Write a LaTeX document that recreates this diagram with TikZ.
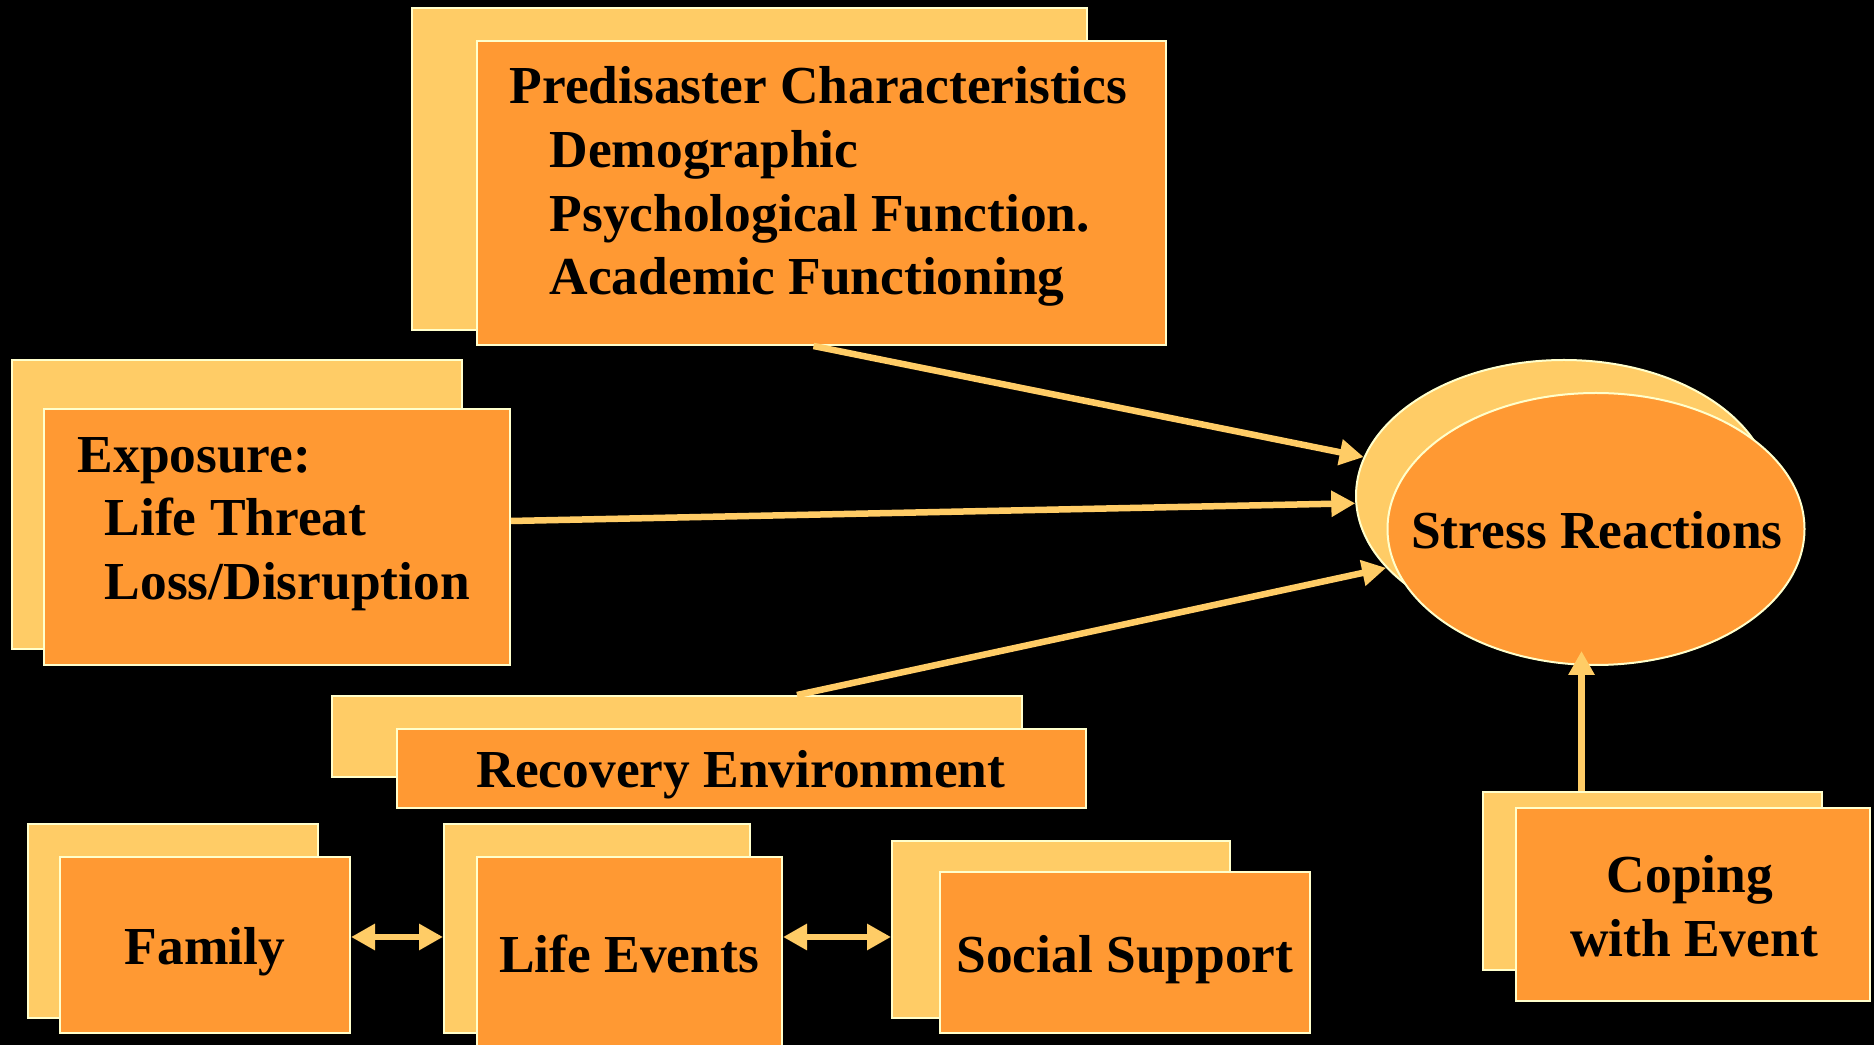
\documentclass[tikz,border=0pt]{standalone}
\usepackage{fontspec}
\setmainfont{Liberation Serif}
\usetikzlibrary{shapes.geometric,arrows.meta,fit}
\definecolor{backfill}{HTML}{FFCC66}
\definecolor{frontfill}{HTML}{FF9933}
\definecolor{rim}{HTML}{FFFFCC}
\tikzset{
    backbox/.style={draw=rim, line width=0.2mm, fill=backfill, inner sep=0pt},
    frontbox/.style={draw=rim, line width=0.2mm, fill=frontfill, inner sep=0pt},
    lbl/.style={inner sep=0pt, anchor=base, font=\fontsize{15.2}{18.2}\selectfont\bfseries},
    arr/.style={draw=backfill, line width=0.65mm, -{Triangle[length=2.4mm,width=2.5mm]}},
    arrboth/.style={draw=backfill, line width=0.65mm, {Triangle[length=2.4mm,width=2.5mm]}-{Triangle[length=2.4mm,width=2.5mm]}}
}
\begin{document}
\begin{tikzpicture}[x=0.1mm, y=-0.1mm]%% start picture

    \useasboundingbox (0,0) rectangle (1874,1045);
    \fill[black] (0,0) rectangle (1874,1045);
    \clip (0,0) rectangle (1874,1045);

        % predisaster
        \node[backbox, fit={(412,8) (1087,330)}] (preB) {};
        \node[frontbox, fit={(477,41) (1166,345)}] (preF) {};
            \node[lbl, anchor=base west] (pre1) at (509,104) {Predisaster Characteristics};
            \node[lbl, anchor=base west] (pre2) at (549,168) {Demographic};
            \node[lbl, anchor=base west] (pre3) at (549,232) {Psychological Function.};
            \node[lbl, anchor=base west] (pre4) at (549,295) {Academic Functioning};

        % exposure
        \node[backbox, fit={(12,360) (462,649)}] (expB) {};
        \node[frontbox, fit={(44,409) (510,665)}] (expF) {};
            \node[lbl, anchor=base west] (exp1) at (77,473) {Exposure:};
            \node[lbl, anchor=base west] (exp2) at (104,536) {Life Threat};
            \node[lbl, anchor=base west] (exp3) at (104,600) {Loss/Disruption};

        % stress reactions
        \node[backbox, ellipse, minimum width=41.6mm, minimum height=27.2mm] (strB) at (1564,496) {};
        \node[frontbox, ellipse, minimum width=41.7mm, minimum height=27.2mm] (strF) at (1596,529) {};
            \node[lbl] (str1) at (1597,549) {Stress Reactions};

        % recovery environment
        \node[backbox, fit={(332,696) (1022,777)}] (recB) {};
        \node[frontbox, fit={(397,729) (1086,808)}] (recF) {};
            \node[lbl] (rec1) at (741,788) {Recovery Environment};

        % bottom row
        \node[backbox, fit={(28,824) (318,1018)}] (famB) {};
        \node[frontbox, fit={(60,857) (350,1033)}] (famF) {};
            \node[lbl] (fam1) at (205,965) {Family};

        \node[backbox, fit={(444,824) (750,1033)}] (lifB) {};
        \node[frontbox, fit={(477,857) (782,1060)}] (lifF) {};
            \node[lbl] (lif1) at (629,973) {Life Events};

        \node[backbox, fit={(892,841) (1230,1018)}] (socB) {};
        \node[frontbox, fit={(940,872) (1310,1033)}] (socF) {};
            \node[lbl] (soc1) at (1125,973) {Social Support};

        % coping
        \node[backbox, fit={(1483,792) (1822,970)}] (copB) {};
        \node[frontbox, fit={(1516,808) (1870,1001)}] (copF) {};
            \node[lbl] (cop1) at (1690,893) {Coping};
            \node[lbl] (cop2) at (1694,957) {with Event};

        \coordinate (row) at (0,937);

        \draw[arr] ([xshift=-0.8mm]preF.south) -- (strB.169);
        \draw[arr] ([yshift=1.6mm]expF.east) -- (strB.182);
        \draw[arr] ([xshift=12mm]recB.north) -- (strB.202);
        \draw[arr, shorten >=-1.5mm] ([xshift=-7.1mm]copB.north) -- ([xshift=-7.1mm]copB.north |- strF.south);

        \draw[arrboth] (famF.east |- row) -- (lifB.west |- row);
        \draw[arrboth] (lifF.east |- row) -- (socB.west |- row);

\end{tikzpicture}
\end{document}
